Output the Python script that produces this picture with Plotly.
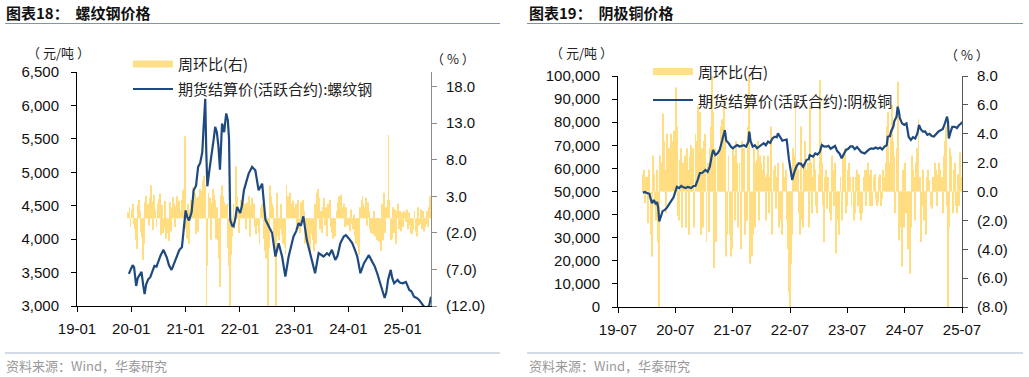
import plotly.graph_objects as go
import pandas as pd

W, H = 1029, 377

# ---------------- Chart 18: rebar ----------------
rebar_dates = [
    "2019-12-16", "2019-12-30", "2020-01-10", "2020-01-20", "2020-02-03", "2020-02-14", "2020-02-28",
    "2020-03-10", "2020-03-22", "2020-03-31", "2020-04-10", "2020-04-24", "2020-05-08", "2020-05-22",
    "2020-06-05", "2020-06-19", "2020-07-03", "2020-07-17", "2020-08-05", "2020-08-14", "2020-08-28",
    "2020-09-11", "2020-09-28", "2020-10-09", "2020-10-23", "2020-11-06", "2020-11-20", "2020-12-07",
    "2020-12-18", "2021-01-01", "2021-01-12", "2021-01-24", "2021-02-10", "2021-02-24", "2021-03-12",
    "2021-03-26", "2021-04-09", "2021-04-23", "2021-05-01", "2021-05-13", "2021-05-20", "2021-05-27",
    "2021-06-11", "2021-06-27", "2021-07-09", "2021-07-19", "2021-07-30", "2021-08-10", "2021-08-20",
    "2021-09-03", "2021-09-17", "2021-10-01", "2021-10-12", "2021-10-20", "2021-10-28", "2021-11-10",
    "2021-11-19", "2021-12-01", "2021-12-13", "2022-01-03", "2022-01-15", "2022-01-28", "2022-02-12",
    "2022-03-01", "2022-03-24", "2022-04-15", "2022-05-07", "2022-05-31", "2022-06-22", "2022-07-13",
    "2022-07-25", "2022-08-06", "2022-08-28", "2022-09-19", "2022-10-12", "2022-11-03", "2022-11-25",
    "2022-12-10", "2022-12-28", "2023-01-15", "2023-01-31", "2023-02-15", "2023-03-04", "2023-03-27",
    "2023-04-12", "2023-05-01", "2023-05-22", "2023-06-15", "2023-07-01", "2023-07-18", "2023-08-10",
    "2023-08-25", "2023-09-12", "2023-10-05", "2023-10-20", "2023-11-08", "2023-12-01", "2023-12-15",
    "2024-01-04", "2024-01-27", "2024-02-12", "2024-03-01", "2024-03-22", "2024-04-15", "2024-05-01",
    "2024-05-18", "2024-06-10", "2024-06-25", "2024-07-13", "2024-07-28", "2024-08-16", "2024-09-01",
    "2024-09-12", "2024-09-24", "2024-10-12", "2024-10-22", "2024-11-04", "2024-11-27", "2024-12-12",
    "2025-01-01", "2025-01-22", "2025-02-14", "2025-02-28", "2025-03-18", "2025-04-05", "2025-04-21",
    "2025-05-08", "2025-05-24", "2025-06-10", "2025-06-27", "2025-07-10",
]
rebar_price = [
    3480, 3560, 3610, 3580, 3300, 3420, 3470,
    3510, 3300, 3180, 3320, 3400, 3430, 3520,
    3600, 3590, 3680, 3760, 3840, 3790, 3720,
    3610, 3540, 3600, 3680, 3740, 3840, 3880,
    4180, 4430, 4330, 4280, 4400, 4730, 4800,
    5080, 5140, 5300, 5630, 6100, 5300, 4790,
    5050, 5280, 5500, 5680, 5600, 5380, 5040,
    5730, 5600, 5880, 5780, 5500, 4290, 4200,
    4190, 4300, 4480, 4390, 4500, 4730, 4850,
    4980, 5080, 5030, 4730, 4830, 4290, 4190,
    4150, 4090, 3740, 3940, 3740, 3440, 3740,
    3900, 4040, 4120, 4240, 4200, 4340, 3990,
    3850, 3690, 3490, 3790, 3760, 3740, 3790,
    3760, 3840, 3690, 3750, 3940, 4040, 4060,
    4010, 3940, 3850, 3740, 3490, 3640, 3700,
    3760, 3660, 3600, 3490, 3380, 3240, 3120,
    3200, 3390, 3540, 3420, 3340, 3390, 3350,
    3340, 3360, 3240, 3220, 3140, 3120, 3090,
    3040, 2990, 2980, 3000, 3140,
]
rebar_wow_2019 = [0.8, 1.5, -1.2]
rebar_wow_2020 = [
    1.2, 2.0, -0.8, -1.5, -3.0, -4.2, 1.8, 2.5, 1.0, -1.8, -2.6, -5.7, -3.5,
    2.2, 3.1, 1.4, 2.0, -1.0, 2.8, 4.5, 2.3, -1.6, 3.2, 1.1, -1.2, 2.0,
    2.6, 3.4, -2.3, 1.8, -2.0, -1.4, 2.4, -2.8, -1.0, -2.0, -3.1, 2.2, -1.8,
    1.5, 2.9, 2.0, -1.2, 1.6, 3.0, 1.8, 2.4, 1.0, 2.5, 3.8, 4.0, 11.2,
]
rebar_wow_2021 = [
    -1.5, -2.8, 2.0, -3.5, 1.2, 2.5, 0.8, 4.2, 3.0, 3.5, -2.2, 2.8, -1.8,
    3.0, 4.0, 2.5, 3.8, 5.2, 5.8, 4.5, -12.0, -6.5, 3.5, 2.8, -3.0, 2.2,
    4.0, 3.2, 2.5, -2.8, 1.5, -3.0, -5.5, -9.4, 3.2, 4.5, 3.0, 2.2, 1.8,
    1.5, 2.0, -4.0, -6.5, -12.0, -5.0, -2.5, 2.0, -1.5, 7.1, 3.0, 1.5, -2.0, 0.8,
]
rebar_wow_2022 = [
    2.5, 1.8, 3.2, 0.9, 2.0, -1.5, 2.2, 1.2, 3.0, -2.5, 1.8, 2.8,
    1.0, 2.0, -1.2, -2.2, -1.0, -2.0, -3.6, 1.5, 2.0, 1.2, -2.8, -4.5, -5.5,
    -3.0, -12.0, -4.0, 4.5, 3.0, 2.0, 1.5, -2.0, -4.0, -12.0, 3.5, -2.5, -3.0, -1.5,
    2.0, -2.2, -3.5, -4.0, -5.0, 4.5, 3.0, 2.2, 3.5, 2.0, 1.8, 2.4, 1.5,
]
rebar_wow_2023 = [
    1.5, 2.0, -1.0, 2.5, -1.5, -2.0, 2.2, 1.8, 2.5, 1.0, -3.5, -2.0, -2.8,
    -2.5, -4.0, -5.0, -2.2, -3.0, -4.5, 2.0, -3.5, 3.5, 4.0, 2.8, -1.5, 1.0,
    -2.0, 1.5, 2.8, -1.0, 1.5, -2.5, 2.0, 1.8, 2.5, -1.2, -2.0, -2.8, -1.5,
    -2.5, 1.0, 2.2, 3.0, 2.5, 3.2, 1.5, 1.0, 2.0, -1.2, 1.5, -1.0, -0.8,
]
rebar_wow_2024 = [
    -1.0, -1.8, 1.2, -0.8, -1.5, 0.5, -2.5, -3.5, -2.0, -3.8, -5.0, 1.5, 2.5,
    3.0, 2.0, 1.5, 2.8, -1.0, 2.2, 1.0, -1.5, -2.0, -1.5, -2.2, 1.0, -2.5,
    -1.8, -3.0, -2.2, -3.2, -2.8, -4.5, 2.0, -3.0, 3.5, -2.0, 1.5, 2.5, 11.4,
    2.5, -3.0, -2.8, 1.5, -2.0, 1.2, -3.5, 1.0, 2.0, -1.5, 1.0, -1.8, 0.8,
]
rebar_wow_2025 = [
    -1.2, 1.0, 0.8, -0.5, 1.2, -1.5, 0.8, -1.0, -2.0, -2.2, -1.5, 1.0, -1.8,
    -2.5, 1.5, -1.0, -0.8, 1.2, -1.5, 1.0, -1.8, -1.2, -0.8, 1.0, -1.2, 1.5, 3.0,
]
rebar_wow_first_fridays = ["2019-12-13", "2020-01-03", "2021-01-01", "2022-01-07",
                           "2023-01-06", "2024-01-05", "2025-01-03"]

# ---------------- Chart 19: cathode copper ----------------
copper_dates = [
    "2019-12-06", "2019-12-20", "2020-01-03", "2020-01-17", "2020-01-24", "2020-02-03", "2020-02-14",
    "2020-02-28", "2020-03-06", "2020-03-13", "2020-03-20", "2020-03-27", "2020-04-10", "2020-04-24",
    "2020-05-08", "2020-05-22", "2020-06-05", "2020-06-19", "2020-07-03", "2020-07-10", "2020-07-24",
    "2020-08-07", "2020-08-21", "2020-09-04", "2020-09-18", "2020-10-09", "2020-10-23", "2020-11-06",
    "2020-11-20", "2020-12-04", "2020-12-18", "2021-01-08", "2021-01-22", "2021-02-05", "2021-02-19",
    "2021-02-26", "2021-03-12", "2021-03-26", "2021-04-09", "2021-04-23", "2021-05-07", "2021-05-12",
    "2021-05-21", "2021-06-04", "2021-06-18", "2021-07-02", "2021-07-16", "2021-07-30", "2021-08-13",
    "2021-08-27", "2021-09-10", "2021-09-24", "2021-10-08", "2021-10-15", "2021-10-22", "2021-11-05",
    "2021-11-19", "2021-12-03", "2021-12-17", "2021-12-31", "2022-01-14", "2022-01-28", "2022-02-11",
    "2022-02-25", "2022-03-11", "2022-03-25", "2022-04-08", "2022-04-15", "2022-04-29", "2022-05-13",
    "2022-05-27", "2022-06-10", "2022-06-24", "2022-07-08", "2022-07-15", "2022-07-29", "2022-08-12",
    "2022-08-26", "2022-09-09", "2022-09-23", "2022-10-14", "2022-10-28", "2022-11-04", "2022-11-25",
    "2022-12-09", "2022-12-23", "2023-01-06", "2023-01-20", "2023-02-03", "2023-02-17", "2023-03-03",
    "2023-03-17", "2023-03-31", "2023-04-14", "2023-04-28", "2023-05-12", "2023-05-26", "2023-06-09",
    "2023-06-23", "2023-07-07", "2023-07-21", "2023-08-04", "2023-08-18", "2023-09-01", "2023-09-15",
    "2023-09-29", "2023-10-20", "2023-11-03", "2023-11-17", "2023-12-01", "2023-12-15", "2023-12-29",
    "2024-01-12", "2024-01-26", "2024-02-09", "2024-02-23", "2024-03-08", "2024-03-15", "2024-03-29",
    "2024-04-05", "2024-04-19", "2024-04-26", "2024-05-10", "2024-05-17", "2024-05-24", "2024-05-31",
    "2024-06-14", "2024-06-28", "2024-07-12", "2024-07-26", "2024-08-09", "2024-08-23", "2024-09-06",
    "2024-09-20", "2024-09-30", "2024-10-11", "2024-10-25", "2024-11-08", "2024-11-22", "2024-12-06",
    "2024-12-20", "2025-01-03", "2025-01-17", "2025-01-31", "2025-02-14", "2025-02-28", "2025-03-14",
    "2025-03-28", "2025-04-03", "2025-04-08", "2025-04-18", "2025-04-30", "2025-05-16", "2025-05-30",
    "2025-06-13", "2025-06-27", "2025-07-01",
]
copper_price = [
    49500, 49800, 49300, 49000, 47000, 44900, 46300,
    44500, 45500, 43000, 37000, 38500, 41500, 42000,
    43000, 44500, 46300, 47500, 50500, 52000, 51500,
    52400, 51800, 51500, 52000, 51500, 52300, 52500,
    55000, 58000, 58000, 59300, 58500, 60700, 66000,
    68000, 65800, 66500, 68000, 71500, 74500, 76600,
    72000, 71000, 69500, 68700, 69500, 70100, 69500,
    69800, 70000, 69400, 71500, 75900, 72000, 69400,
    70000, 68700, 69500, 70200, 70900, 70000, 71600,
    71000, 73000, 73700, 73500, 75200, 73500, 72000,
    72300, 72500, 64000, 58000, 55000, 58500, 61000,
    62200, 62000, 60700, 63600, 64000, 65800, 65100,
    66500, 66000, 67000, 70100, 69500, 69400, 69800,
    68500, 69100, 69700, 67500, 66500, 64400, 66000,
    68000, 68500, 69500, 69500, 68300, 69200, 68000,
    67000, 66500, 67500, 68200, 68700, 68500, 69000,
    68500, 69000, 68200, 69400, 70000, 73700, 74000,
    76000, 78000, 80500, 82400, 86700, 85000, 81700,
    79500, 78800, 79500, 73700, 72300, 73500, 73000,
    75200, 78800, 77000, 75900, 76000, 74500, 75000,
    74000, 73800, 75000, 75900, 76500, 77000, 79500,
    82400, 80000, 73000, 75500, 78000, 78000, 77500,
    78800, 79500, 80200,
]
copper_wow_2019 = [1.2, 1.5, -0.8, 1.0]
copper_wow_2020 = [
    1.0, -2.2, 1.5, -3.0, -4.5, 2.5, 1.2, -1.0, -2.0, 1.5, -3.5, -8.0, 2.5,
    2.0, 5.4, 3.5, 1.5, -1.5, 4.0, 2.8, 3.0, 1.0, 4.0, 3.5, 4.2, 2.5,
    7.2, 4.5, -1.7, -2.0, 2.2, 3.0, -2.5, 2.0, 2.5, -2.5, 3.0, 1.5, -3.0,
    2.5, 3.2, 1.0, 3.0, -2.5, 4.0, 3.5, 5.9, 4.8, 5.5, -3.0, 3.0, -2.5,
]
copper_wow_2021 = [
    3.5, 4.0, -3.5, 2.0, -2.8, 3.0, 4.5, 8.0, 5.5, -5.3, 3.0, -3.5, 2.5,
    2.5, 3.0, 4.5, 5.0, 4.2, 6.5, 4.0, -4.5, -3.0, 2.5, -3.0, -4.5, -4.0,
    3.0, 2.5, -2.0, 3.5, 2.0, -2.5, 2.0, -4.0, 3.5, 2.5, 3.0, -3.0, -2.0,
    -2.0, 4.5, 8.0, -5.0, -4.5, -3.0, 3.0, -2.5, 2.0, 2.2, 3.5, -2.0, 2.5, 2.0,
]
copper_wow_2022 = [
    1.5, 2.5, 1.0, -2.0, 1.2, 2.5, -1.5, 1.0, 4.5, -3.0, 1.5, 1.8,
    -1.2, 1.0, 2.0, -2.5, -2.0, -1.5, -3.0, 2.0, 1.0, 1.5, -2.0, -4.0, -7.0,
    -8.0, -5.0, -3.0, 3.0, 2.5, 6.1, 2.0, 1.5, -1.5, -3.0, 4.5, -2.0, -2.5, 2.0,
    3.5, 1.5, 2.0, -2.5, 5.9, 2.0, -1.5, 1.0, 2.5, 1.5, -1.0, -1.5, 1.2,
]
copper_wow_2023 = [
    7.7, 3.5, 2.0, -1.0, -3.5, 1.0, 1.5, -1.2, 1.0, -1.5, -2.0, 2.5, 1.5,
    -1.0, 2.0, -4.3, -2.0, -1.5, -3.0, 1.0, -2.0, 2.5, 1.5, 3.0, -1.5, -1.0,
    1.5, 2.0, 1.0, -1.0, 1.0, -2.0, -1.5, 1.0, 1.5, -1.0, 1.2, -1.5, -2.0,
    -1.5, 1.0, 1.5, -1.0, 1.5, 2.0, 1.2, -1.0, 1.5, -1.0, 1.0, 1.2, -0.5,
]
copper_wow_2024 = [
    -1.0, -0.8, 1.0, 1.2, -1.0, -0.5, 1.5, 1.0, 2.0, 4.5, 5.5, 2.0, 1.5,
    4.0, 6.0, 3.5, 2.5, -1.5, 3.0, 7.6, -3.4, -2.5, -2.0, -5.2, 1.5, -2.5,
    2.0, -1.5, -4.0, -3.0, -5.7, -2.5, 2.5, 1.5, 1.0, -2.0, 2.0, 3.0, 5.0,
    1.0, -3.5, -1.0, 1.5, -2.0, -1.0, -3.0, 1.0, 1.5, 0.8, -1.0, -1.2, 1.0,
]
copper_wow_2025 = [
    1.0, 2.0, 1.5, -1.0, 1.2, 2.0, 1.5, 1.0, -1.5, 2.5, 3.5, 4.5, -1.0,
    -8.0, -2.5, 3.0, 2.5, -1.5, 1.5, 2.0, -1.0, -1.5, 1.2, -1.0, 2.7, 1.0,
]
copper_wow_first_fridays = ["2019-12-06", "2020-01-03", "2021-01-01", "2022-01-07",
                            "2023-01-06", "2024-01-05", "2025-01-03"]

# tick labels
rebar_price_ticks = [3000, 3500, 4000, 4500, 5000, 5500, 6000, 6500]
rebar_pct_ticks = [-12, -7, -2, 3, 8, 13, 18]
rebar_pct_labels = ["(12.0)", "(7.0)", "(2.0)", "3.0", "8.0", "13.0", "18.0"]
copper_price_ticks = [0, 10000, 20000, 30000, 40000, 50000, 60000, 70000, 80000, 90000, 100000]
copper_pct_ticks = [-8, -6, -4, -2, 0, 2, 4, 6, 8]
copper_pct_labels = ["(8.0)", "(6.0)", "(4.0)", "(2.0)", "0.0", "2.0", "4.0", "6.0", "8.0"]

legend_bar = "周环比(右)"
legend_rebar = "期货结算价(活跃合约):螺纹钢"
legend_copper = "期货结算价(活跃合约):阴极铜"


def weekly_series(first_fridays, groups):
    xs, ys = [], []
    for start, vals in zip(first_fridays, groups):
        xs.extend(pd.date_range(start, periods=len(vals), freq="7D"))
        ys.extend(vals)
    return xs, ys


rebar_bx, rebar_by = weekly_series(rebar_wow_first_fridays, [
    rebar_wow_2019, rebar_wow_2020, rebar_wow_2021, rebar_wow_2022,
    rebar_wow_2023, rebar_wow_2024, rebar_wow_2025])
copper_bx, copper_by = weekly_series(copper_wow_first_fridays, [
    copper_wow_2019, copper_wow_2020, copper_wow_2021, copper_wow_2022,
    copper_wow_2023, copper_wow_2024, copper_wow_2025])

BAR_COLOR = "#FFDD80"
LINE_COLOR = "#1F4A80"
FONT = "Liberation Sans, Arial, sans-serif"
CJK = "Noto Sans CJK SC, sans-serif"
DAY_MS = 86400000

fig = go.Figure()
fig.add_trace(go.Bar(x=rebar_bx, y=rebar_by, xaxis="x", yaxis="y",
                     marker=dict(color=BAR_COLOR, line=dict(width=0)),
                     width=6 * DAY_MS, showlegend=False))
fig.add_trace(go.Scatter(x=pd.to_datetime(rebar_dates), y=rebar_price, xaxis="x", yaxis="y2",
                         mode="lines", line=dict(color=LINE_COLOR, width=2.2), showlegend=False))
fig.add_trace(go.Bar(x=copper_bx, y=copper_by, xaxis="x2", yaxis="y3",
                     marker=dict(color=BAR_COLOR, line=dict(width=0)),
                     width=6 * DAY_MS, showlegend=False))
fig.add_trace(go.Scatter(x=pd.to_datetime(copper_dates), y=copper_price, xaxis="x2", yaxis="y4",
                         mode="lines", line=dict(color=LINE_COLOR, width=2.2), showlegend=False))


def px(x):
    return x / W


def py(y):
    return 1 - y / H


tickfont = dict(family=FONT, size=15, color="#111")
common_x = dict(type="date", showgrid=False, zeroline=False, showline=True, linecolor="#000",
                linewidth=1, ticks="outside", ticklen=5, tickcolor="#000", tickfont=tickfont,
                tickformat="%y-%m", dtick="M12", ticklabelstandoff=4, automargin=False)
common_y = dict(showgrid=False, zeroline=False, showline=True, linewidth=1, ticks="outside",
                ticklen=5, tickfont=tickfont, automargin=False)

fig.update_layout(
    template="none",
    width=W, height=H, margin=dict(l=0, r=0, t=0, b=0, pad=0),
    paper_bgcolor="white", plot_bgcolor="rgba(0,0,0,0)",
    barmode="overlay", showlegend=False,
    xaxis=dict(common_x, domain=[px(77), px(431)], anchor="y2",
               range=["2019-01-01", "2025-07-10"], tick0="2019-01-01"),
    yaxis=dict(common_y, anchor="x", side="right", range=[-12, 20],
               tickvals=rebar_pct_ticks, ticktext=rebar_pct_labels,
               linecolor="#8c8c8c", tickcolor="#8c8c8c", ticklabelstandoff=6,
               domain=[py(306), py(72)]),
    yaxis2=dict(common_y, anchor="x", overlaying="y", side="left", range=[3000, 6500],
                tickvals=rebar_price_ticks, tickformat=",", linecolor="#000", tickcolor="#000",
                ticklabelstandoff=9),
    xaxis2=dict(common_x, domain=[px(618), px(962)], anchor="y4",
                range=["2019-07-01", "2025-07-01"], tick0="2019-07-01"),
    yaxis3=dict(common_y, anchor="x2", side="right", range=[-8, 8],
                tickvals=copper_pct_ticks, ticktext=copper_pct_labels,
                linecolor="#555", tickcolor="#555", ticklabelstandoff=6,
                domain=[py(307), py(76)]),
    yaxis4=dict(common_y, anchor="x2", overlaying="y3", side="left", range=[0, 100000],
                tickvals=copper_price_ticks, tickformat=",", linecolor="#000", tickcolor="#000",
                ticklabelstandoff=9),
)

shapes = []
annotations = []


def text(x, y, s, size=14, color="#222", xanchor="left", family=CJK, bold=False):
    annotations.append(dict(x=px(x), y=py(y), xref="paper", yref="paper", text=f"<b>{s}</b>" if bold else s,
                            showarrow=False, xanchor=xanchor, yanchor="middle",
                            font=dict(family=family, size=size, color=color)))


def hline(x0, x1, y, color, width=1.2):
    shapes.append(dict(type="line", xref="paper", yref="paper", x0=px(x0), x1=px(x1),
                       y0=py(y), y1=py(y), line=dict(color=color, width=width)))


# titles and rules
text(4, 13, "图表18：  螺纹钢价格", size=15, color="#111", bold=True)
text(527, 13, "图表19：  阴极铜价格", size=15, color="#111", bold=True)
hline(5, 500, 23.5, "#8093B3")
hline(527, 1023, 23.5, "#8093B3")
hline(5, 500, 353, "#A8B7CF")
hline(527, 1023, 353, "#A8B7CF")
text(4, 365, "资料来源：Wind，华泰研究", size=13, color="#999")
text(527, 365, "资料来源：Wind，华泰研究", size=13, color="#999")

# units
text(58, 52, "（ 元/吨 ）", size=13, color="#222", xanchor="center")
text(453, 58, "（ % ）", size=13, color="#222", xanchor="center")
text(581, 52, "（ 元/吨 ）", size=13, color="#222", xanchor="center")
text(967, 55, "（ % ）", size=13, color="#222", xanchor="center")

# legends
for (lx, ybar, yline, label) in [(133, 64, 89, legend_rebar), (653, 71.5, 100, legend_copper)]:
    shapes.append(dict(type="rect", xref="paper", yref="paper", x0=px(lx), x1=px(lx + 40),
                       y0=py(ybar + 3.5), y1=py(ybar - 3.5), fillcolor="#FFE08A",
                       line=dict(width=0)))
    hline(lx, lx + 40, yline, LINE_COLOR, width=2.2)
    text(lx + 43, ybar, legend_bar, size=15)
    text(lx + 43, yline, label, size=15)

fig.update_layout(shapes=shapes, annotations=annotations)
fig.write_html("out.html", config={"displayModeBar": False},
               post_script="document.body.style.margin='0px';")
